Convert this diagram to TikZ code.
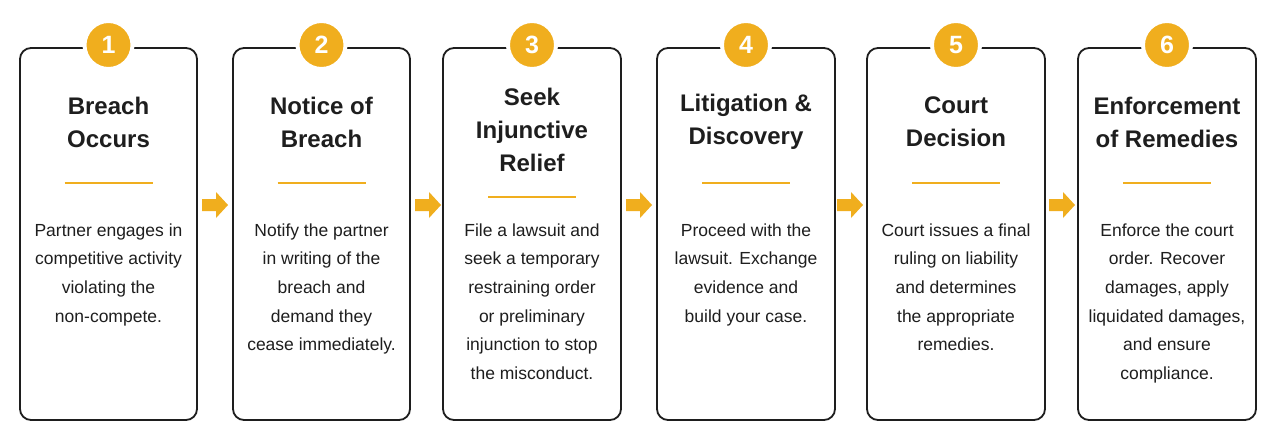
\documentclass[tikz,border=0pt]{standalone}
\usepackage{fontspec}
\setmainfont{Liberation Sans}
\definecolor{gold}{HTML}{F0AE1E}
\definecolor{ink}{HTML}{1E1E1E}
\begin{document}
\begin{tikzpicture}[x=1pt,y=-1pt,
  card/.style={draw=ink,line width=1.8pt,rounded corners=11pt},
  num/.style={circle,fill=gold,draw=white,line width=4pt,minimum size=48pt,inner sep=0pt,text=white,font=\fontsize{25}{25}\selectfont\bfseries},
  ttl/.style={align=center,font=\fontsize{24}{33}\selectfont\bfseries,text=ink},
  body/.style={align=center,font=\fontsize{17.5}{28.6}\selectfont,text=ink,anchor=north},
  rule/.style={draw=gold,line width=1.8pt},
  arr/.style={fill=gold}]
\useasboundingbox[fill=white] (0,0) rectangle (1280,445);
\foreach \i/\l/\r/\t/\ty/\dy/\b in {
 1/20/197/{Breach\\Occurs}/122/183/{Partner engages in\\competitive activity\\violating the\\non-compete.},
 2/233/410/{Notice of\\Breach}/122/183/{Notify the partner\\in writing of the\\breach and\\demand they\\cease immediately.},
 3/443/621/{Seek\\Injunctive\\Relief}/130/197/{File a lawsuit and\\seek a temporary\\restraining order\\or preliminary\\injunction to stop\\the misconduct.},
 4/657/835/{Litigation \&\\Discovery}/122/183/{Proceed with the\\lawsuit. Exchange\\evidence and\\build your case.},
 5/867/1045/{Court\\Decision}/122/183/{Court issues a final\\ruling on liability\\and determines\\the appropriate\\remedies.},
 6/1078/1256/{Enforcement\\of Remedies}/122/183/{Enforce the court\\order. Recover\\damages, apply\\liquidated damages,\\and ensure\\compliance.}}{
  \draw[card] (\l,48) rectangle (\r,420);
  \node[num] (n\i) at ({(\l+\r)/2},45) {\i};
  \node[ttl] (t\i) at ({(\l+\r)/2},\ty) {\t};
  \draw[rule] ({(\l+\r)/2-44},\dy) -- ({(\l+\r)/2+44},\dy);
  \node[body] (b\i) at ({(\l+\r)/2},220) {\b};
}
\foreach \x [count=\k] in {215,428,639,850,1062}{
  \coordinate (a\k) at (\x,205);
  \fill[arr] ([shift={(-13,-6)}]a\k) -- ([shift={(1,-6)}]a\k) -- ([shift={(1,-13)}]a\k) -- ([shift={(13,0)}]a\k) -- ([shift={(1,13)}]a\k) -- ([shift={(1,6)}]a\k) -- ([shift={(-13,6)}]a\k) -- cycle;
}
\end{tikzpicture}
\end{document}
